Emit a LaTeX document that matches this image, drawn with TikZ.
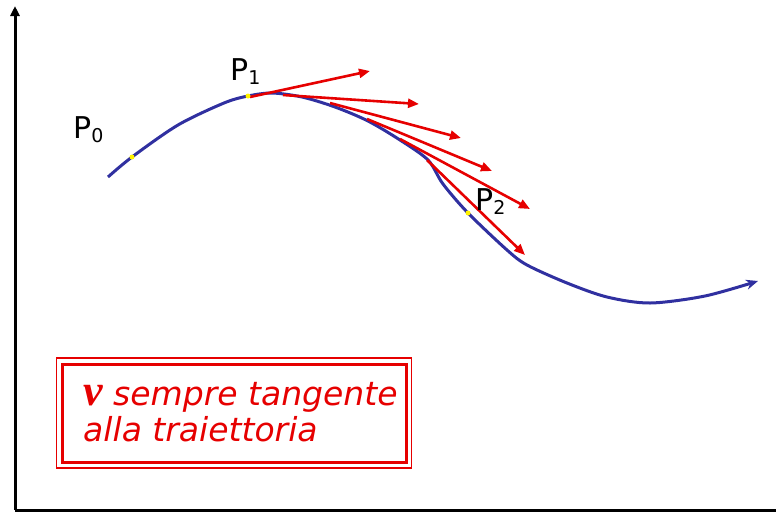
\documentclass[tikz,border=0pt]{standalone}
\usepackage{fontspec}
\newfontfamily\lblfont{DejaVu Sans}
\newfontfamily\vfont{Liberation Serif}
\usetikzlibrary{arrows.meta}
\definecolor{curveblue}{RGB}{48,48,160}
\definecolor{vred}{RGB}{230,0,0}
\tikzset{
  axis/.style={line width=3pt, -{Triangle[length=10pt,width=9pt]}},
  traj/.style={curveblue, line width=3pt, -{Stealth[length=12pt,width=10pt]}},
  vel/.style={vred, line width=2.6pt, -{Triangle[length=11pt,width=9pt]}},
  dot/.style={circle, fill=yellow, inner sep=0pt, minimum size=5pt},
  plabel/.style={font=\lblfont\fontsize{30}{30}\selectfont, inner sep=0pt, anchor=base west},
  boxtext/.style={text=vred, font=\lblfont\itshape\fontsize{33}{33}\selectfont, inner sep=0pt, anchor=base west}
}
\begin{document}
\begin{tikzpicture}[x=1pt,y=-1pt]
\useasboundingbox (0,0) rectangle (776,512);
% axes
\coordinate (O) at (15,510);
\coordinate (Ytop) at (15,6);
\coordinate (Xend) at (776,510);
\draw[line width=3pt] (O) -- (Xend);
\draw[axis] (O) -- (Ytop);
% trajectory points
\coordinate (c0) at (108,177);
\coordinate (p0) at (132,157);
\coordinate (c1) at (178,125);
\coordinate (c3) at (224,103);
\coordinate (p1) at (248,96);
\coordinate (c4) at (272,93);
\coordinate (c5) at (302,97);
\coordinate (c6) at (335,107);
\coordinate (c7) at (368,121);
\coordinate (c8) at (400,140);
\coordinate (c9) at (428,160);
\coordinate (c10) at (443,184);
\coordinate (p2) at (468,213);
\coordinate (c12) at (507,250);
\coordinate (c13) at (527,265);
\coordinate (c14) at (567,283);
\coordinate (c15) at (607,297);
\coordinate (c16) at (650,303);
\coordinate (c17) at (705,296);
\coordinate (cend) at (758,281);
\draw[traj] plot[smooth, tension=0.5] coordinates {(c0) (p0) (c1) (c3) (p1) (c4) (c5) (c6) (c7) (c8) (c9) (c10) (p2) (c12) (c13) (c14) (c15) (c16) (c17) (cend)};
% velocity vectors
\coordinate (s1) at (250,97);  \coordinate (e1) at (370,71);
\coordinate (s2) at (283,95);  \coordinate (e2) at (419,104);
\coordinate (s3) at (330,103); \coordinate (e3) at (461,138);
\coordinate (s4) at (367,119); \coordinate (e4) at (492,171);
\coordinate (s5) at (400,139); \coordinate (e5) at (530,209);
\coordinate (s6) at (427,160); \coordinate (e6) at (525,255);
\foreach \i in {1,...,6} \draw[vel] (s\i) -- (e\i);
% points
\node[dot] (d0) at (p0) {};
\node[dot] (d1) at (p1) {};
\node[dot] (d2) at (p2) {};
\node[plabel] (l0) at (73,138) {P\raisebox{-4pt}{\fontsize{19}{19}\selectfont 0}};
\node[plabel] (l1) at (230,80) {P\raisebox{-4pt}{\fontsize{19}{19}\selectfont 1}};
\node[plabel] (l2) at (475,210) {P\raisebox{-4pt}{\fontsize{19}{19}\selectfont 2}};
% text box
\node[draw=vred, line width=1.2pt, minimum width=355pt, minimum height=110pt, inner sep=0pt] (outer) at (234,413) {};
\node[draw=vred, line width=3pt, minimum width=344pt, minimum height=98pt, inner sep=0pt] (inner) at (234,413) {};
\node[boxtext] (t1) at (83,405) {{\vfont\bfseries\itshape\fontsize{44}{44}\selectfont v} sempre tangente};
\node[boxtext] (t2) at (83,441) {alla traiettoria};
\end{tikzpicture}
\end{document}
